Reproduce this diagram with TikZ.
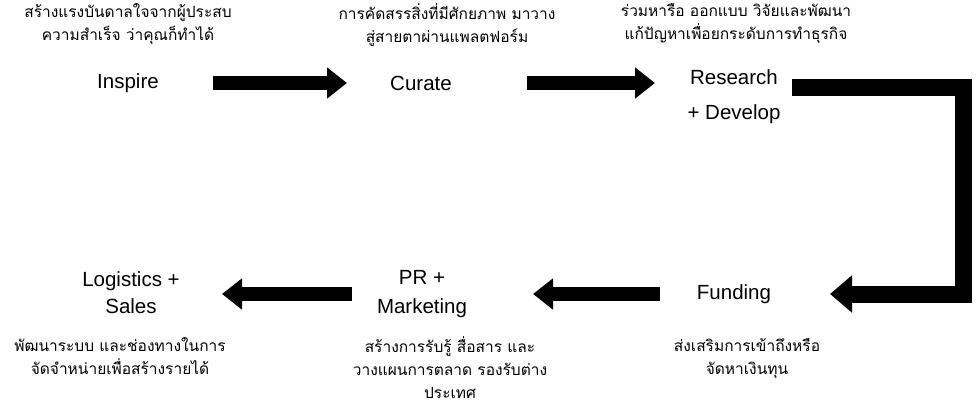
\documentclass[tikz,border=0pt]{standalone}
\usepackage{fontspec}
\setmainfont{Liberation Sans}
\newfontfamily\thaifont[Script=Thai]{Loma}
\usetikzlibrary{arrows.meta}
\tikzset{
  lbl/.style={font=\fontsize{20.5}{24}\selectfont, inner sep=0pt, align=center},
  desc/.style={font=\thaifont\fontsize{15.5}{23}\selectfont, inner sep=0pt, align=center},
  bigarrow/.style={draw=black, line width=14pt, line cap=butt, line join=miter,
    -{Triangle[length=20pt,width=30pt]}},
  elbowarrow/.style={bigarrow, line width=17pt, -{Triangle[length=22pt,width=36pt]}},
}
\begin{document}
\begin{tikzpicture}[x=1pt,y=-1pt]
\useasboundingbox[fill=white] (0,0) rectangle (976,407);

% labels
\node[lbl] (inspire) at (128,83) {Inspire};
\node[lbl] (curate) at (421,83) {Curate};
\node[lbl, font=\fontsize{20.5}{35}\selectfont] (research) at (734,97) {Research\\+ Develop};
\node[lbl] (funding) at (734,294) {Funding};
\node[lbl, font=\fontsize{20.5}{29}\selectfont] (pr) at (422,294) {PR +\\Marketing};
\node[lbl, font=\fontsize{20.5}{27}\selectfont] (logistics) at (131,293) {Logistics +\\Sales};

% descriptions
\node[desc] (dinspire) at (128,24) {สร้างแรงบันดาลใจจากผู้ประสบ\\ความสำเร็จ ว่าคุณก็ทำได้};
\node[desc] (dcurate) at (447,25) {การคัดสรรสิ่งที่มีศักยภาพ มาวาง\\สู่สายตาผ่านแพลตฟอร์ม};
\node[desc] (dresearch) at (736,24) {ร่วมหารือ ออกแบบ วิจัยและพัฒนา\\แก้ปัญหาเพื่อยกระดับการทำธุรกิจ};
\node[desc] (dfunding) at (747,358) {ส่งเสริมการเข้าถึงหรือ\\จัดหาเงินทุน};
\node[desc] (dpr) at (450,368) {สร้างการรับรู้ สื่อสาร และ\\วางแผนการตลาด รองรับต่าง\\ประเทศ};
\node[desc] (dlogistics) at (120,356) {พัฒนาระบบ และช่องทางในการ\\จัดจำหน่ายเพื่อสร้างรายได้};

% corners of the elbow arrow
\coordinate (c1) at (963,87);
\coordinate (c2) at (963,294);

% arrows
\draw[bigarrow, shorten <=85pt, shorten >=74pt] (inspire.center) -- (curate.center);
\draw[bigarrow, shorten <=106pt, shorten >=79pt] (curate.center) -- (curate.center -| research.center);
\draw[elbowarrow, shorten <=58pt, shorten >=96pt] ([yshift=10pt]research.center) -- (c1) -- (c2) -- (funding.center);
\draw[bigarrow, shorten <=74pt, shorten >=111pt] (funding.center) -- (funding.center -| pr.center);
\draw[bigarrow, shorten <=70pt, shorten >=91pt] (pr.center) -- (pr.center -| logistics.center);
\end{tikzpicture}
\end{document}
